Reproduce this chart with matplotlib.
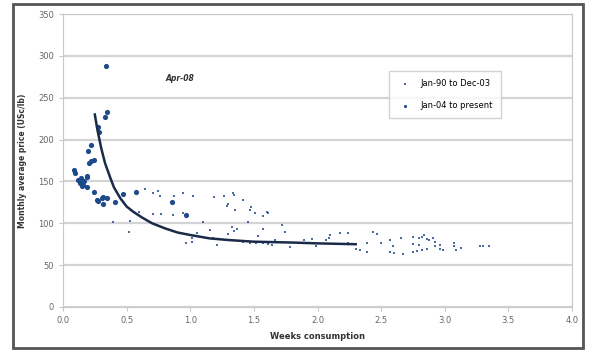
import numpy as np
import matplotlib
matplotlib.use("Agg")
import matplotlib.pyplot as plt
from matplotlib.patches import Rectangle

# Jan-90 to Dec-03 (small points)
old_x = [0.644, 0.71, 0.749, 0.762, 0.872, 0.945, 1.024, 0.71, 0.768, 0.862, 0.945,
         0.39, 0.527, 0.521, 1.10, 0.967, 1.01, 1.01, 1.19, 1.265, 1.155, 1.18, 1.21,
         1.336, 1.345, 1.286, 1.30, 1.35, 1.417, 1.47, 1.475, 1.51, 1.57, 1.60, 1.61,
         1.456, 1.326, 1.30, 1.34, 1.37, 1.574, 1.535, 1.72, 1.745, 1.666,
         1.417, 1.47, 1.52, 1.574, 1.61, 1.64, 1.78, 1.89, 1.955, 1.99,
         2.07, 2.09, 2.10, 2.18, 2.24, 2.24, 2.30, 2.33, 2.39, 2.39, 2.44, 2.465,
         2.50, 2.57, 2.59, 2.57, 2.60, 2.66, 2.67, 2.75, 2.75, 2.75, 2.78, 2.80,
         2.82, 2.84, 2.86, 2.88, 2.91, 2.92, 2.80, 2.82, 2.86, 2.92, 2.96, 2.99,
         2.96, 3.07, 3.07, 3.09, 3.13, 3.28, 3.30, 3.35, 0.60, 1.05]
old_y = [141, 136, 139, 133, 133, 136, 133, 111, 111, 110, 112,
         101, 103, 90, 102, 76, 82, 78, 131, 133, 92, 82, 74,
         136, 134, 121, 123, 116, 128, 116, 120, 112, 109, 113, 112,
         101, 96, 87, 91, 93, 93, 85, 98, 89, 80,
         78, 77, 77, 76, 75, 74, 72, 80, 81, 73,
         80, 82, 86, 88, 88, 77, 69, 68, 77, 66, 90, 87,
         76, 80, 73, 66, 64, 82, 63, 84, 75, 66, 67, 82,
         84, 86, 81, 80, 82, 78, 74, 68, 69, 73, 69, 68,
         74, 76, 73, 68, 71, 73, 73, 73, 113, 88]

# Jan-04 to present (large points)
new_x = [0.338, 0.348, 0.33, 0.277, 0.285, 0.22, 0.20, 0.246, 0.22, 0.207,
         0.089, 0.094, 0.141, 0.186, 0.134, 0.167, 0.147, 0.186, 0.246, 0.317,
         0.343, 0.272, 0.317, 0.41, 0.474, 0.571, 0.86, 0.97, 0.19, 0.147,
         0.16, 0.12, 0.27, 0.31]
new_y = [288, 233, 227, 215, 209, 194, 186, 176, 174, 172,
         164, 160, 154, 156, 148, 150, 144, 143, 137, 132,
         130, 127, 123, 125, 135, 137, 126, 110, 155, 148,
         146, 152, 128, 130]

# trend line
fit_x = [0.25, 0.27, 0.30, 0.33, 0.37, 0.40, 0.45, 0.50, 0.55, 0.62, 0.70, 0.80,
         0.90, 1.00, 1.15, 1.30, 1.50, 1.80, 2.00, 2.30]
fit_y = [230, 212, 190, 172, 155, 143, 130, 120, 114, 107, 100, 94,
         89, 86, 82, 80, 78, 77, 76, 75]

blue = '#1d4a8a'
navy = '#1b2a48'

fig = plt.figure(figsize=(5.9, 3.51), dpi=100)
fig.patches.append(Rectangle((0.022, 0.008), 0.966, 0.982, transform=fig.transFigure,
                             fill=False, ec='#555555', lw=2))
ax = fig.add_axes([0.1068, 0.1254, 0.8627, 0.8346])

ax.set_xlim(0, 4)
ax.set_ylim(0, 350)
ax.set_xticks(np.arange(0, 4.01, 0.5))
ax.set_yticks(np.arange(0, 351, 50))
ax.set_xticklabels(['%.1f' % v for v in np.arange(0, 4.01, 0.5)])
ax.grid(axis='y', color='#d4d4d4', lw=1.6)
ax.set_axisbelow(True)
for s in ax.spines.values():
    s.set_color('#c8c8c8')
ax.tick_params(labelsize=6, colors='#c8c8c8', labelcolor='#666666', length=3)

ax.scatter(old_x, old_y, s=3, color=blue, marker='s', lw=0, alpha=0.8,
           label='Jan-90 to Dec-03', zorder=3)
ax.scatter(new_x, new_y, s=14, color=blue, marker='o', lw=0,
           label='Jan-04 to present', zorder=3)
ax.plot(fit_x, fit_y, color=navy, lw=1.8, zorder=4)

ax.text(0.92, 273, 'Apr-08', fontsize=5.5, style='italic', fontweight='bold',
        color='#333333', ha='center', va='center')
ax.set_xlabel('Weeks consumption', fontsize=6, fontweight='bold', color='#333333',
              labelpad=5)
ax.set_ylabel('Monthly average price (USc/lb)', fontsize=5.5, fontweight='bold',
              color='#333333', labelpad=8)

leg = ax.legend(loc='upper left', bbox_to_anchor=(0.64, 0.805), fontsize=6,
                frameon=True, fancybox=False, edgecolor='#c8c8c8',
                borderpad=1.0, labelspacing=1.5, handletextpad=0.8,
                markerscale=0.6, borderaxespad=0)
leg.get_frame().set_linewidth(1)

fig.savefig('out.png', dpi=100)
